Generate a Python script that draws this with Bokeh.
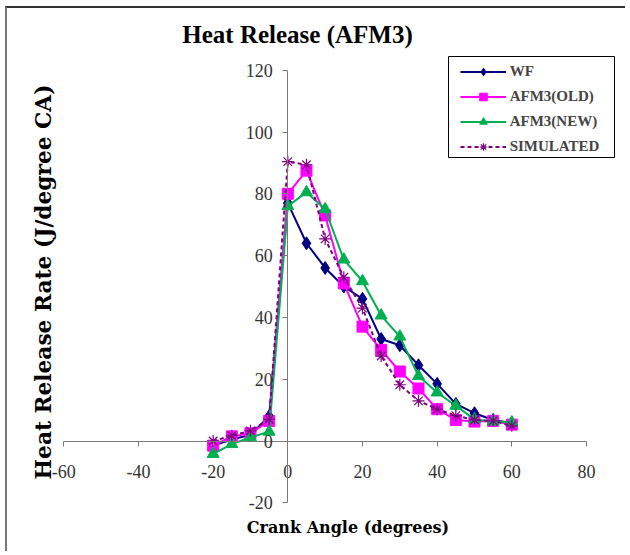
import math
from bokeh.plotting import figure
from bokeh.models import (Legend, LegendItem, Label, FixedTicker, Range1d,
                          ColumnDataSource, BoxAnnotation)
from bokeh.embed import file_html
from bokeh.resources import INLINE

# ---- data ----
crank_angle = [-20, -15, -10, -5, 0, 5, 10, 15, 20, 25, 30, 35, 40, 45, 50, 55, 60]
wf = [-1.5, 0.5, 2, 8, 77, 64, 56, 50, 46, 33, 31, 24.5, 18.5, 12, 9, 6.8, 5.8]
afm3_old = [-1.5, 1.5, 2.5, 6.5, 80, 87.5, 73, 51, 37, 29.5, 22.5, 17, 10.3, 6.8, 6.3, 6.5, 5.3]
afm3_new = [-4.2, -1, 1.2, 3, 76, 80.5, 75, 58.7, 51.7, 40.6, 33.8, 21, 15.7, 11.4, 7, 6.3, 6]
simulated = [0, 1.7, 3.3, 7, 90.4, 89.4, 65.4, 53, 43, 27.5, 18.2, 13, 10.3, 8.2, 6.8, 6.5, 4.9]
series_names = ["WF", "AFM3(OLD)", "AFM3(NEW)", "SIMULATED"]
x_ticks = [-60, -40, -20, 0, 20, 40, 60, 80]
y_ticks = [-20, 0, 20, 40, 60, 80, 100, 120]
x_min, x_max = -60, 80
y_min, y_max = -20, 120

# ---- geometry (canvas pixels, origin top-left) ----
W, H = 620, 545
plot_left, plot_right, plot_top, plot_bottom = 56.3, 579.0, 61.7, 494.3
kx = (plot_right - plot_left) / (x_max - x_min)
ky = (plot_bottom - plot_top) / (y_max - y_min)
xr = Range1d(x_min - plot_left / kx, x_max + (W - plot_right) / kx)
yr = Range1d(y_min - (H - plot_bottom) / ky, y_max + plot_top / ky)

src = ColumnDataSource(dict(x=crank_angle, wf=wf, old=afm3_old, new=afm3_new, sim=simulated))

p = figure(width=W, height=H, output_backend="svg", toolbar_location=None,
           x_range=xr, y_range=yr,
           min_border_left=0, min_border_right=0, min_border_top=0, min_border_bottom=0)
p.outline_line_color = None
p.xgrid.grid_line_color = None
p.ygrid.grid_line_color = None
p.background_fill_color = "white"
p.border_fill_color = "white"
p.styles = {"margin-left": "5px", "margin-top": "6px",
            "border-top": "2px solid #333", "border-left": "2px solid #777"}

for ax, ticks, bnds in ((p.xaxis[0], x_ticks, (x_min, x_max)), (p.yaxis[0], y_ticks, (y_min, y_max))):
    ax.fixed_location = 0
    ax.bounds = bnds
    ax.ticker = FixedTicker(ticks=ticks)
    ax.major_label_overrides = {t: str(t) for t in ticks}
    ax.axis_line_color = "#7a7a7a"
    ax.major_tick_line_color = "#7a7a7a"
    ax.major_tick_in = 0
    ax.major_tick_out = 5
    ax.minor_tick_line_color = None
    ax.major_label_text_font = "Liberation Sans Narrow"
    ax.major_label_text_font_size = "18px"
    ax.major_label_text_color = "#333333"
p.xaxis.major_label_standoff = 19
p.yaxis.major_label_standoff = 10

colors = ["#000080", "#FF00FF", "#00B050", "#800080"]

r1 = p.line("x", "wf", source=src, line_color=colors[0], line_width=2)
m1 = p.scatter("x", "wf", source=src, marker="diamond", size=13, fill_color=colors[0], line_color=colors[0])
r2 = p.line("x", "old", source=src, line_color=colors[1], line_width=2)
m2 = p.scatter("x", "old", source=src, marker="square", size=11, fill_color=colors[1], line_color=colors[1])
r3 = p.line("x", "new", source=src, line_color=colors[2], line_width=2)
m3 = p.scatter("x", "new", source=src, marker="triangle", size=12, fill_color=colors[2], line_color=colors[2])
r4 = p.line("x", "sim", source=src, line_color=colors[3], line_width=2, line_dash="4 3")
m4 = p.scatter("x", "sim", source=src, marker="asterisk", size=12, line_color=colors[3], line_width=1.2)

# legend frame
box_l, box_r, box_t, box_b = 441, 607, 48, 149
p.add_layout(BoxAnnotation(left=box_l, right=box_r, top=H - box_t, bottom=H - box_b,
                           left_units="screen", right_units="screen",
                           top_units="screen", bottom_units="screen",
                           fill_color="white", fill_alpha=1,
                           line_color="black", line_width=1, line_alpha=1))

legend = Legend(items=[
    LegendItem(label=series_names[0], renderers=[r1, m1]),
    LegendItem(label=series_names[1], renderers=[r2, m2]),
    LegendItem(label=series_names[2], renderers=[r3, m3]),
    LegendItem(label=series_names[3], renderers=[r4, m4]),
], location=(452.7, H - 148))
legend.border_line_color = None
legend.background_fill_alpha = 0
legend.label_text_font = "Liberation Serif"
legend.label_text_font_style = "bold"
legend.label_text_font_size = "15px"
legend.glyph_width = 46
legend.glyph_height = 19
legend.label_height = 19
legend.spacing = 6
legend.padding = 3
legend.label_standoff = 4
legend.margin = 0
p.add_layout(legend, "center")

title = Label(x=290, y=H - 26, x_units="screen", y_units="screen", text="Heat Release (AFM3)",
              text_font="Liberation Serif", text_font_style="bold", text_font_size="25px",
              text_align="center", text_baseline="middle", text_color="black")
xlab = Label(x=340.5, y=H - 519, x_units="screen", y_units="screen", text="Crank Angle (degrees)",
             text_font="DejaVu Serif", text_font_style="bold", text_font_size="16px",
             text_align="center", text_baseline="middle", text_color="black")
ylab = Label(x=35.5, y=H - 273.5, x_units="screen", y_units="screen", text="Heat Release Rate (J/degree CA)",
             text_font="DejaVu Serif", text_font_style="bold", text_font_size="21.7px",
             text_align="center", text_baseline="middle", angle=math.pi / 2, text_color="black")
for lab in (title, xlab, ylab):
    p.add_layout(lab)

open("out.html", "w").write(file_html(p, INLINE))
